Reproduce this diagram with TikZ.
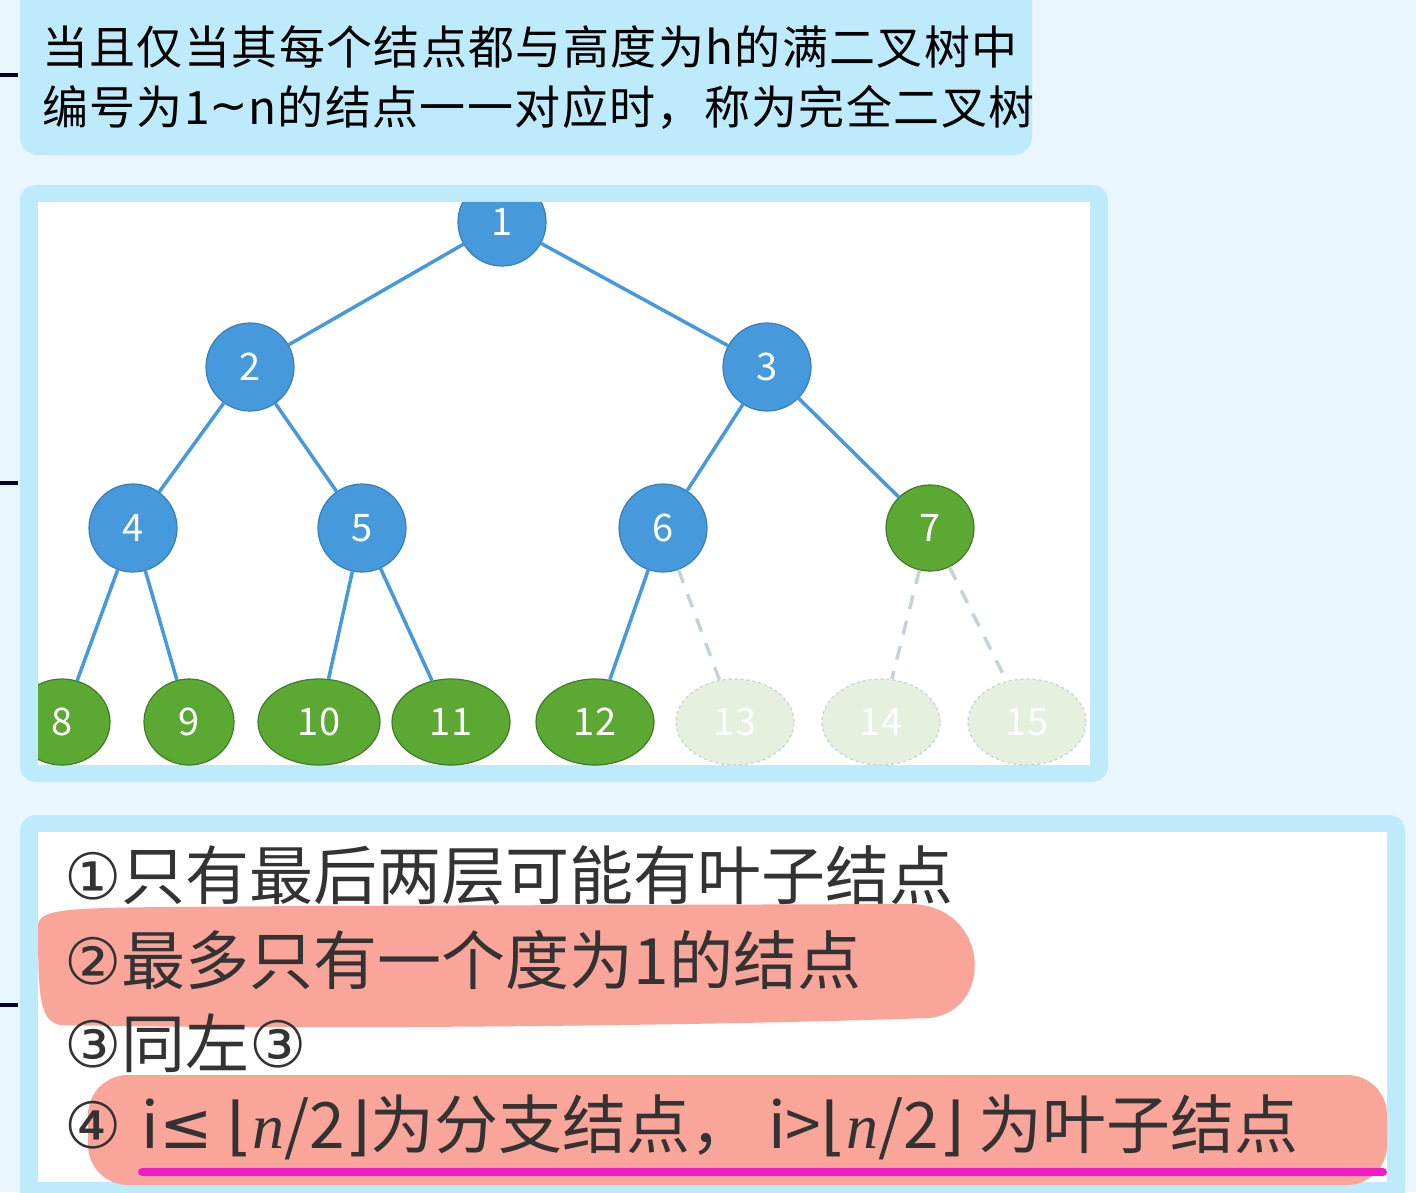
\documentclass[tikz,border=0pt]{standalone}
\usepackage{fontspec}
\setmainfont{Noto Sans CJK SC}
\newfontfamily\dv{DejaVu Sans}
\newfontfamily\lsi{Liberation Serif}
\definecolor{bg}{HTML}{EAF6FD}
\definecolor{boxc}{HTML}{BDEBFC}
\definecolor{nblue}{HTML}{4699DB}
\definecolor{nblueD}{HTML}{3A7FB8}
\definecolor{ngreen}{HTML}{5BA833}
\definecolor{ngreenD}{HTML}{3F7E25}
\definecolor{faint}{HTML}{E6F0DF}
\definecolor{faintD}{HTML}{C3D3DA}
\definecolor{hl}{HTML}{F9A59A}
\definecolor{mag}{HTML}{F01AC8}
\tikzset{
 bn/.style={circle,fill=nblue,draw=nblueD,line width=1.2pt,minimum size=88pt,inner sep=0pt,text=white,font=\fontsize{38}{38}\selectfont},
 gn/.style={ellipse,fill=ngreen,draw=ngreenD,line width=1.2pt,minimum height=86pt,inner sep=0pt,text=white,font=\fontsize{38}{38}\selectfont},
 fn/.style={ellipse,fill=faint,draw=faintD,dashed,line width=1.2pt,minimum height=86pt,minimum width=118pt,inner sep=0pt,text=white,font=\fontsize{38}{38}\selectfont},
 ed/.style={draw=nblue,line width=3.5pt},
 fed/.style={draw=faintD,line width=3.5pt,dash pattern=on 14pt off 12pt},
 tx/.style={anchor=west,inner sep=0pt,font=\fontsize{46}{46}\selectfont\addfontfeature{LetterSpace=3}},
 bt/.style={anchor=west,inner sep=0pt,font=\fontsize{64}{64}\selectfont\addfontfeature{LetterSpace=12},text=black!80},
}
\usetikzlibrary{shapes.geometric}
\begin{document}
\begin{tikzpicture}[x=1pt,y=-1pt]
\fill[bg] (0,0) rectangle (1416,1192);
\useasboundingbox (0,0) rectangle (1416,1192);
\foreach \yy in {75,483,1005} \fill[black!80!blue] (0,\yy-2) rectangle (18,\yy+2);
% top box
\fill[boxc,rounded corners=18pt] (20,-20) rectangle (1032,155);
\node[tx] (t1) at (42,47) {当且仅当其每个结点都与高度为h的满二叉树中};
\node[tx] (t2) at (42,107) {编号为1\raisebox{3pt}{\dv\char"223C}n的结点一一对应时，称为完全二叉树};
% middle box
\fill[boxc,rounded corners=16pt] (20,185) rectangle (1108,782);
\fill[white] (38,202) rectangle (1090,765);
\begin{scope}
\clip (38,202) rectangle (1090,765);
\node[bn] (n1) at (502,222) {1};
\node[bn] (n2) at (250,367) {2};
\node[bn] (n3) at (767,367) {3};
\node[bn] (n4) at (133,528) {4};
\node[bn] (n5) at (362,528) {5};
\node[bn] (n6) at (663,528) {6};
\node[gn,minimum width=88pt] (n7) at (930,528) {7};
\node[gn,minimum width=96pt] (n8) at (62,722) {8};
\node[gn,minimum width=90pt] (n9) at (189,722) {9};
\node[gn,minimum width=122pt] (n10) at (319,722) {10};
\node[gn,minimum width=118pt] (n11) at (451,722) {11};
\node[gn,minimum width=118pt] (n12) at (595,722) {12};
\node[fn] (n13) at (735,722) {13};
\node[fn] (n14) at (881,722) {14};
\node[fn] (n15) at (1027,722) {15};
\draw[ed] (n1) -- (n2); \draw[ed] (n1) -- (n3);
\draw[ed] (n2) -- (n4); \draw[ed] (n2) -- (n5);
\draw[ed] (n3) -- (n6); \draw[ed] (n3) -- (n7);
\draw[ed] (n4) -- (n8); \draw[ed] (n4) -- (n9);
\draw[ed] (n5) -- (n10); \draw[ed] (n5) -- (n11);
\draw[ed] (n6) -- (n12);
\draw[fed] (n6) -- (n13); \draw[fed] (n7) -- (n14); \draw[fed] (n7) -- (n15);
\end{scope}
% bottom box
\fill[boxc,rounded corners=16pt] (20,815) rectangle (1405,1210);
\fill[white] (38,832) rectangle (1387,1182);
\fill[hl] (38,925) .. controls (40,905) and (80,908) .. (300,906) -- (910,904) .. controls (990,905) and (995,1010) .. (930,1018) .. controls (700,1026) and (300,1030) .. (60,1025) .. controls (40,1020) and (38,1000) .. (38,925) -- cycle;
\fill[hl,rounded corners=40pt] (88,1075) rectangle (1387,1185);
\draw[mag,line width=8pt,line cap=round] (142,1172) -- (1383,1172);
\node[bt] (b1) at (64,875) {\dv\char"2460\rmfamily 只有最后两层可能有叶子结点};
\node[bt] (b2) at (64,960) {\dv\char"2461\rmfamily 最多只有一个度为1的结点};
\node[bt] (b3) at (64,1043) {\dv\char"2462\rmfamily 同左{\dv\char"2462}};
\node[bt] (b4) at (64,1127) {\dv\char"2463\ \rmfamily i{\dv ≤} {\dv ⌊}{\lsi\itshape n}/2{\dv ⌋}为分支结点，\ i>{\dv ⌊}{\lsi\itshape n}/2{\dv ⌋} 为叶子结点};
\end{tikzpicture}
\end{document}
